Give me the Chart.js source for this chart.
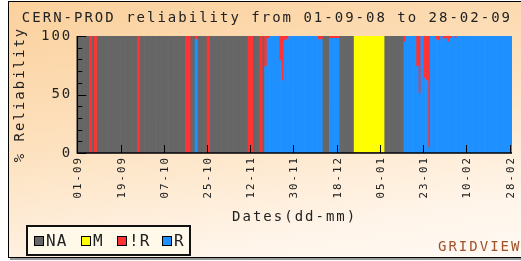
<!DOCTYPE html>
<html>
<head>
<meta charset="utf-8">
<script src="https://cdn.jsdelivr.net/npm/chart.js@4.4.1/dist/chart.umd.min.js"></script>
<style>
  html, body { margin: 0; padding: 0; background: #fff; overflow: hidden; }
  body { width: 521px; height: 261px; position: relative; }
  #panel {
    position: absolute; left: 8px; top: 1px; width: 530px; height: 255px;
    border: 1px solid #000; box-shadow: 2px 2px 0 #999;
    background: linear-gradient(170deg, #fbd09c 0%, #fde2c0 45%, #fff4e8 80%, #fffaf4 100%);
  }
  #wrap { position: absolute; left: 0; top: 0; width: 521px; height: 261px; }
  #legend {
    position: absolute; left: 26px; top: 225px; width: 161px; height: 27px;
    border: 2px solid #111; background: #fff9ea;
  }
  .item { position: absolute; top: 0; height: 27px; display: flex; align-items: center;
    font: 16px "DejaVu Sans Mono", monospace; letter-spacing: 1px; color: #222; }
  .sw { display: inline-block; width: 8px; height: 8px; border: 1px solid #000; margin-right: 2px; }
  .t { white-space: nowrap; line-height: 16px; position: relative; top: 0px; }
  #brand { position: absolute; left: 438px; top: 238px; font: 14px "DejaVu Sans Mono", monospace;
    letter-spacing: 2px; color: #a0522d; white-space: nowrap; }
</style>
</head>
<body>
<div id="panel"></div>
<div id="wrap"><canvas id="chart"></canvas></div>
<div id="legend"></div>
<div id="brand">GRIDVIEW</div>
<script>
// tick labels shown on the date axis
const tickLabels = ['01-09','19-09','07-10','25-10','12-11','30-11','18-12','05-01','23-01','10-02','28-02'];

// status names + colours (legend order)
const statusNames = ['NA', 'M', '!R', 'R'];
const statusColors = ['#666666', '#ffff00', '#ff3333', '#1e90ff'];

// daily percentages, 01-09-08 .. 28-02-09 (181 days)
const naValues = [
  100,100,100,100,100,0,100,0,100,100,
  100,100,100,100,100,100,100,100,100,100,
  100,100,100,100,100,0,100,100,100,100,
  100,100,100,100,100,100,100,100,100,100,
  100,100,100,100,100,0,0,100,100,0,
  100,100,100,100,0,100,100,100,100,100,
  100,100,100,100,100,100,100,100,100,100,
  100,0,0,100,100,100,0,100,0,0,
  0,0,0,0,0,0,0,0,0,0,
  0,0,0,0,0,0,0,0,0,0,
  0,0,100,100,100,0,0,0,0,100,
  100,100,100,100,100,0,0,0,0,0,
  0,0,0,0,0,0,0,0,100,100,
  100,100,100,100,100,100,0,0,0,0,
  0,0,0,0,0,0,0,0,0,0,
  0,0,0,0,0,0,0,0,0,0,
  0,0,0,0,0,0,0,0,0,0,
  0,0,0,0,0,0,0,0,0,0,
  0
];
const mValues = [
  0,0,0,0,0,0,0,0,0,0,
  0,0,0,0,0,0,0,0,0,0,
  0,0,0,0,0,0,0,0,0,0,
  0,0,0,0,0,0,0,0,0,0,
  0,0,0,0,0,0,0,0,0,0,
  0,0,0,0,0,0,0,0,0,0,
  0,0,0,0,0,0,0,0,0,0,
  0,0,0,0,0,0,0,0,0,0,
  0,0,0,0,0,0,0,0,0,0,
  0,0,0,0,0,0,0,0,0,0,
  0,0,0,0,0,0,0,0,0,0,
  0,0,0,0,0,100,100,100,100,100,
  100,100,100,100,100,100,100,100,0,0,
  0,0,0,0,0,0,0,0,0,0,
  0,0,0,0,0,0,0,0,0,0,
  0,0,0,0,0,0,0,0,0,0,
  0,0,0,0,0,0,0,0,0,0,
  0,0,0,0,0,0,0,0,0,0,
  0
];
const notRValues = [
  0,0,0,0,0,100,0,100,0,0,
  0,0,0,0,0,0,0,0,0,0,
  0,0,0,0,0,100,0,0,0,0,
  0,0,0,0,0,0,0,0,0,0,
  0,0,0,0,0,100,100,0,0,3,
  0,0,0,0,100,0,0,0,0,0,
  0,0,0,0,0,0,0,0,0,0,
  0,100,100,0,0,0,100,0,26,2,
  0,0,0,0,21,38,4,3,0,0,
  0,0,0,0,0,0,0,0,0,0,
  3,3,0,0,0,2,2,2,2,0,
  0,0,0,0,0,0,0,0,0,0,
  0,0,0,0,0,0,0,0,0,0,
  0,0,0,0,0,0,5,0,0,0,
  0,26,49,0,36,38,95,0,0,3,
  4,0,3,2,5,2,0,2,0,0,
  0,0,0,0,0,0,0,0,0,0,
  0,0,0,0,0,0,0,0,0,0,
  0
];
const rValues = [
  0,0,0,0,0,0,0,0,0,0,
  0,0,0,0,0,0,0,0,0,0,
  0,0,0,0,0,0,0,0,0,0,
  0,0,0,0,0,0,0,0,0,0,
  0,0,0,0,0,0,0,0,0,97,
  0,0,0,0,0,0,0,0,0,0,
  0,0,0,0,0,0,0,0,0,0,
  0,0,0,0,0,0,0,0,74,98,
  100,100,100,100,79,62,96,97,100,100,
  100,100,100,100,100,100,100,100,100,100,
  97,97,0,0,0,98,98,98,98,0,
  0,0,0,0,0,0,0,0,0,0,
  0,0,0,0,0,0,0,0,0,0,
  0,0,0,0,0,0,95,100,100,100,
  100,74,51,100,64,62,5,100,100,97,
  96,100,97,98,95,98,100,98,100,100,
  100,100,100,100,100,100,100,100,100,100,
  100,100,100,100,100,100,100,100,100,100,
  100
];

// day labels dd-mm from the start date
let days = [];
let d0 = new Date(2008, 8, 1);
for (let i = 0; i < naValues.length; i++) {
  let dt = new Date(d0.getFullYear(), d0.getMonth(), d0.getDate() + i);
  days.push(String(dt.getDate()).padStart(2, '0') + '-' + String(dt.getMonth() + 1).padStart(2, '0'));
}

const mono = 'DejaVu Sans Mono';

// wide letter spacing like the original bitmap font
const spacing = {
  id: 'spacing',
  beforeLayout: (c) => { c.ctx.letterSpacing = '2px'; },
  beforeDraw: (c) => { c.ctx.letterSpacing = '2px'; }
};

// tick marks drawn inside the plot + axis lines
const insideTicks = {
  id: 'insideTicks',
  afterDatasetsDraw: (c) => {
    let ctx = c.ctx, a = c.chartArea, x = c.scales.x, y = c.scales.y;
    let half = (a.right - a.left) / days.length / 2;
    ctx.save();
    ctx.strokeStyle = '#000';
    ctx.lineWidth = 1;
    ctx.beginPath();
    for (let v = 0; v <= 100; v += 10) {
      let py = Math.round(y.getPixelForValue(v)) + 0.5;
      ctx.moveTo(a.left, py);
      ctx.lineTo(a.left + (v % 50 ? 5 : 9), py);
    }
    tickLabels.forEach(l => {
      let px = Math.round(x.getPixelForValue(days.indexOf(l)) - half) + 0.5;
      ctx.moveTo(px, a.bottom);
      ctx.lineTo(px, a.bottom - 8);
    });
    ctx.stroke();
    ctx.lineWidth = 1.5;
    ctx.beginPath();
    ctx.moveTo(a.left, a.top);
    ctx.lineTo(a.left, a.bottom);
    ctx.lineTo(a.right, a.bottom);
    ctx.stroke();
    ctx.restore();
  }
};

const bar = (label, data, color) => ({
  label, data, backgroundColor: color, borderWidth: 0,
  categoryPercentage: 1, barPercentage: 1
});

new Chart(document.getElementById('chart'), {
  type: 'bar',
  data: {
    labels: days,
    // stacked bottom -> top
    datasets: [
      bar('R', rValues, statusColors[3]),
      bar('!R', notRValues, statusColors[2]),
      bar('NA', naValues, statusColors[0]),
      bar('M', mValues, statusColors[1])
    ]
  },
  options: {
    responsive: true,
    maintainAspectRatio: false,
    animation: false,
    layout: { padding: { left: 12, right: 9, top: 0, bottom: 35 } },
    plugins: {
      legend: { display: false },
      tooltip: { enabled: false },
      title: {
        display: true,
        text: 'CERN-PROD reliability from 01-09-08 to 28-02-09',
        align: 'end',
        color: '#222',
        font: { family: mono, size: 14, weight: 'normal' },
        padding: { top: 10, bottom: 9.2 }
      }
    },
    scales: {
      x: {
        stacked: true,
        grid: { display: false, drawTicks: false },
        border: { display: false },
        ticks: {
          autoSkip: false, maxRotation: 90, minRotation: 90, padding: 3,
          color: '#222', font: { family: mono, size: 10.8 },
          callback: function (v) {
            let l = this.getLabelForValue(v);
            return tickLabels.includes(l) ? l : '';
          }
        },
        title: {
          display: true, text: 'Dates(dd-mm)', color: '#222',
          font: { family: mono, size: 14 }, padding: { top: 0, bottom: 0 }
        },
        afterFit: (s) => { s.height = 73; s.paddingLeft = 0; s.paddingRight = 0; }
      },
      y: {
        stacked: true,
        min: 0, max: 100,
        grid: { display: false, drawTicks: false },
        border: { display: false },
        ticks: { stepSize: 50, padding: 5, color: '#222', font: { family: mono, size: 14 } },
        title: {
          display: true, text: '% Reliability', color: '#222',
          font: { family: mono, size: 14 }, padding: 0
        },
        afterFit: (s) => { s.width = 65.3; s.paddingTop = 0; s.paddingBottom = 0; }
      }
    }
  },
  plugins: [spacing, insideTicks]
});

// legend box
const legendPos = [6, 53, 89, 134];
let $legend = document.getElementById('legend');
statusNames.forEach((n, i) => {
  let $item = document.createElement('div');
  $item.className = 'item';
  $item.style.left = legendPos[i] + 'px';
  $item.innerHTML = '<i class="sw" style="background:' + statusColors[i] + '"></i><span class="t"></span>';
  $item.querySelector('.t').textContent = n;
  $legend.appendChild($item);
});
</script>
</body>
</html>
